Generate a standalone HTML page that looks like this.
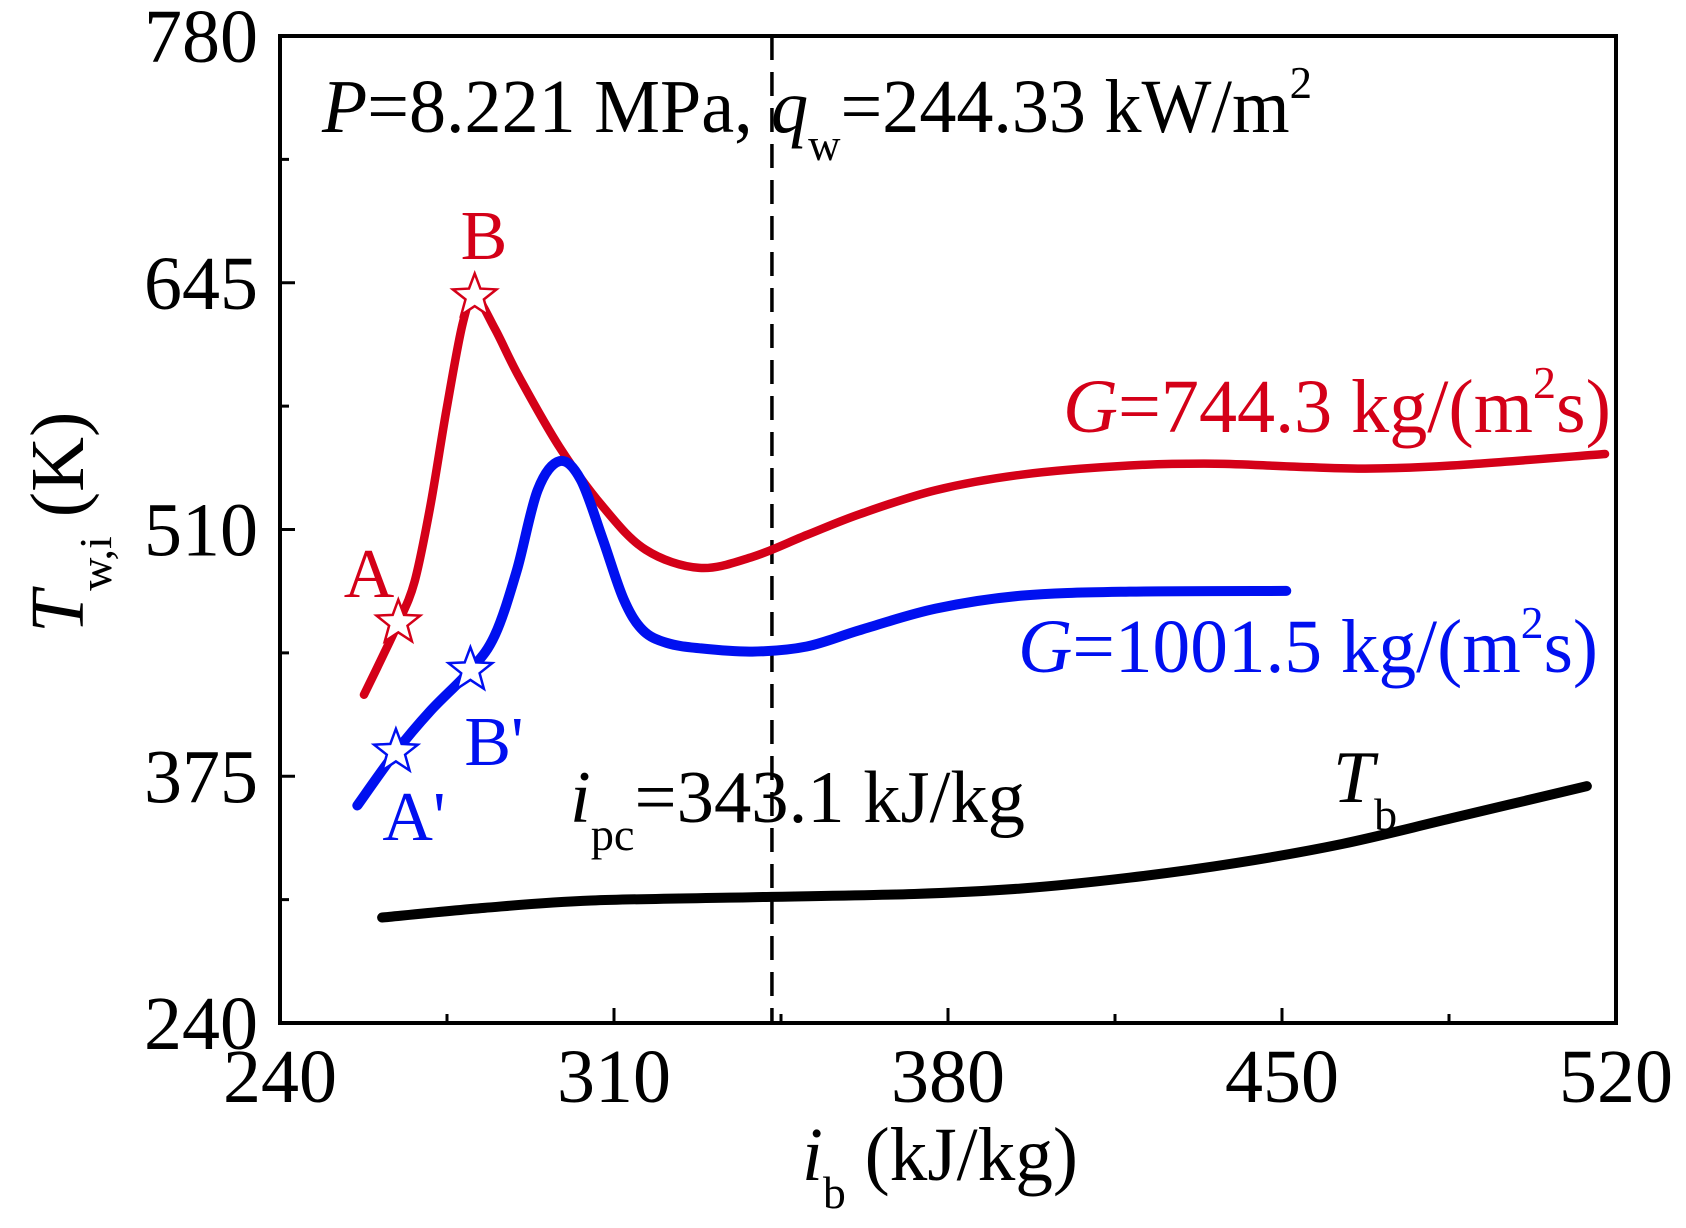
<!DOCTYPE html>
<html><head><meta charset="utf-8"><style>
html,body{margin:0;padding:0;background:#fff}
svg{display:block;font-family:"Liberation Serif",serif}
</style></head><body>
<svg id="chart" width="1686" height="1228" viewBox="0 0 1686 1228">
<g id="axes"></g>
<g id="series"></g>
<g id="labels"></g>
</svg>
<script>
const xTicks=[240,310,380,450,520];
const yTicks=[240,375,510,645,780];
const redX=[257.6,261.4,264.8,268.2,271.5,274.9,278.3,280.8,285,290,298.6,307.6,316.6,327.9,339,350.4,361.6,377.4,395.4,418,436,451.7,467.5,485.5,517.7];
const redY=[419.6,440,459,481.4,522.7,575.7,622.8,637.5,620,594,555,522.7,499,489,495,507,518.5,531.5,540,545,546,544.5,543.3,545,551.3];
const blueX=[256.2,264.3,271.5,279.9,285,289.6,294,298.6,303,307.6,312,316,321,328,339,350.4,361.6,377.4,395.4,418,450.9];
const blueY=[359,388.4,410.7,433,452,487.3,531.5,547.4,537.4,505,472,455,448,445,443.2,446,455,466.7,473.8,476,476.4];
const blackX=[261.4,282.8,305.3,339,372.9,395.4,418,440.3,462.7,485.5,513.9];
const blackY=[297.7,303,307,308.8,310.6,313.6,319.5,327.5,338,352,369.6];
const starsRed=[[264.8,459],[280.8,637.5]];
const starsBlue=[[264.3,388.4],[279.9,433]];
const ipc=343.1;

const L=280,R=1616,T=36,B=1023;
const X=v=>L+(v-240)/(280)*(R-L);
const Y=v=>T+(780-v)/540*(B-T);
const NS="http://www.w3.org/2000/svg";
function mk(tag,attrs,parent){const e=document.createElementNS(NS,tag);for(const k in attrs)e.setAttribute(k,attrs[k]);parent.appendChild(e);return e;}
const axes=document.getElementById('axes'),ser=document.getElementById('series');

let f=mk('rect',{x:L,y:T,width:R-L,height:B-T,fill:'none',stroke:'#000','stroke-width':4},axes);


xTicks.forEach((v,i)=>{
  let t=mk('line',{x1:X(v),x2:X(v),y1:B,y2:B-15,stroke:'#000','stroke-width':3},axes);
  
  
  if(i<xTicks.length-1){let m=mk('line',{x1:X(v+35),x2:X(v+35),y1:B,y2:B-9,stroke:'#000','stroke-width':3},axes);
  
  }
  let tl=mk('text',{x:X(v),y:1102,'text-anchor':'middle','font-size':76},axes);tl.textContent=v;
  
  
});
yTicks.forEach((v,i)=>{
  let t=mk('line',{x1:L,x2:L+15,y1:Y(v),y2:Y(v),stroke:'#000','stroke-width':3},axes);
  
  
  if(i<yTicks.length-1){let m=mk('line',{x1:L,x2:L+9,y1:Y(v+67.5),y2:Y(v+67.5),stroke:'#000','stroke-width':3},axes);
  
  }
  let tl=mk('text',{x:258,y:Y(v)+26,'text-anchor':'end','font-size':76},axes);tl.textContent=v;
  
  
});

function smooth(xs,ys){
  const p=xs.map((x,i)=>[X(x),Y(ys[i])]);
  let d='M'+p[0][0]+','+p[0][1];
  for(let i=0;i<p.length-1;i++){
    const p0=p[i-1]||p[i],p1=p[i],p2=p[i+1],p3=p[i+2]||p2;
    const c1=[p1[0]+(p2[0]-p0[0])/6,p1[1]+(p2[1]-p0[1])/6];
    const c2=[p2[0]-(p3[0]-p1[0])/6,p2[1]-(p3[1]-p1[1])/6];
    d+=' C'+c1+' '+c2+' '+p2;
  }
  return d;
}
let dl=mk('line',{x1:X(ipc),x2:X(ipc),y1:T,y2:B,stroke:'#000','stroke-width':3.5,'stroke-dasharray':'24,12'},ser);


let pb=mk('path',{d:smooth(blackX,blackY),fill:'none',stroke:'#000','stroke-width':10,'stroke-linecap':'round'},ser);


let pr=mk('path',{d:smooth(redX,redY),fill:'none',stroke:'#d40018','stroke-width':8.5,'stroke-linecap':'round'},ser);


let pbl=mk('path',{d:smooth(blueX,blueY),fill:'none',stroke:'#0010f0','stroke-width':10,'stroke-linecap':'round'},ser);


function star(cx,cy,r,col){
  let pts=[];for(let k=0;k<10;k++){const a=-Math.PI/2+k*Math.PI/5;const rr=k%2?r*0.42:r;pts.push((cx+rr*Math.cos(a)).toFixed(1)+','+(cy+rr*Math.sin(a)).toFixed(1));}
  return mk('polygon',{points:pts.join(' '),fill:'#fff',stroke:col,'stroke-width':2.5},ser);
}
starsRed.forEach(s=>{let e=star(X(s[0]),Y(s[1]),23,'#d40018');

});
starsBlue.forEach(s=>{let e=star(X(s[0]),Y(s[1]),23,'#0010f0');

});
</script>
<script>
const labs=document.getElementById('labels');
labs.innerHTML=`
<text x="322" y="132" font-size="76" fill="#000" textLength="990" lengthAdjust="spacingAndGlyphs"><tspan font-style="italic">P</tspan>=8.221 MPa, <tspan font-style="italic">q</tspan><tspan font-size="46" dy="28">w</tspan><tspan dy="-28">=244.33 kW/m</tspan><tspan font-size="46" dy="-34">2</tspan></text>
<text x="484" y="259" font-size="70" fill="#d40018" text-anchor="middle">B</text>
<text x="369" y="597" font-size="70" fill="#d40018" text-anchor="middle">A</text>
<text x="494" y="765" font-size="70" fill="#0010f0" text-anchor="middle">B'</text>
<text x="414" y="840" font-size="70" fill="#0010f0" text-anchor="middle">A'</text>
<text x="1063" y="432" font-size="76" fill="#d40018" textLength="548" lengthAdjust="spacingAndGlyphs"><tspan font-style="italic">G</tspan>=744.3 kg/(m<tspan font-size="46" dy="-34">2</tspan><tspan dy="34">s)</tspan></text>
<text x="1018" y="672" font-size="76" fill="#0010f0" textLength="580" lengthAdjust="spacingAndGlyphs"><tspan font-style="italic">G</tspan>=1001.5 kg/(m<tspan font-size="46" dy="-34">2</tspan><tspan dy="34">s)</tspan></text>
<text x="570" y="822" font-size="74" fill="#000" textLength="455" lengthAdjust="spacingAndGlyphs"><tspan font-style="italic">i</tspan><tspan font-size="46" dy="28">pc</tspan><tspan dy="-28">=343.1 kJ/kg</tspan></text>
<text x="1333" y="802" font-size="74" fill="#000"><tspan font-style="italic">T</tspan><tspan font-size="46" dy="28">b</tspan></text>
<text x="802" y="1180" font-size="76" fill="#000" textLength="276" lengthAdjust="spacingAndGlyphs"><tspan font-style="italic">i</tspan><tspan font-size="46" dy="28">b</tspan><tspan dy="-28"> (kJ/kg)</tspan></text>
<text transform="translate(83,633) rotate(-90)" font-size="76" fill="#000"><tspan font-style="italic">T</tspan><tspan font-size="46" dy="28">w,i</tspan><tspan dy="-28"> (K)</tspan></text>`;
</script>
</body></html>
